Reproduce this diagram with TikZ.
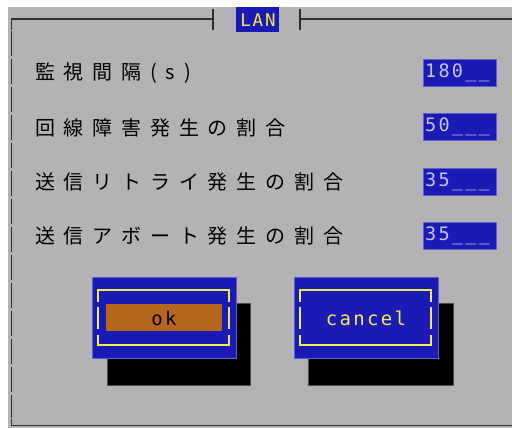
\documentclass[tikz,border=0pt]{standalone}
\usepackage{fontspec}
\newfontfamily\jpfont[LetterSpace=44]{Noto Sans CJK JP}
\newfontfamily\monofont[LetterSpace=12]{DejaVu Sans Mono}
\newfontfamily\lanfont[LetterSpace=10]{DejaVu Sans Mono}
\definecolor{bggray}{HTML}{B4B2B5}
\definecolor{dlgblue}{HTML}{1A1AB4}
\definecolor{dlgyellow}{HTML}{F0EC50}
\definecolor{fieldtext}{HTML}{C4C4E4}
\definecolor{okorange}{HTML}{B4661A}
\definecolor{borderline}{HTML}{2E2E2E}
\tikzset{
  lbl/.style={anchor=west, inner sep=0pt, font=\jpfont\fontsize{20}{20}\selectfont, text=black},
  fieldbox/.style={fill=dlgblue, draw=dlgblue!70!white, line width=0.6pt, minimum width=73pt, minimum height=27pt, inner sep=0pt},
  fieldtxt/.style={anchor=west, inner sep=0pt, font=\monofont\fontsize{18.5}{18.5}\selectfont, text=fieldtext},
  btnblue/.style={fill=dlgblue, draw=dlgblue!70!white, line width=0.6pt},
  btnshadow/.style={fill=black, draw=black!70!white, line width=0.6pt},
  btnframe/.style={draw=dlgyellow, line width=1.8pt},
  frameline/.style={draw=borderline, line width=1.6pt},
}
\begin{document}
\begin{tikzpicture}[x=1pt, y=-1pt]
\useasboundingbox (0,0) rectangle (512,428);
\fill[white] (0,0) rectangle (512,428);
\fill[bggray] (8,7) rectangle (512,428);
% window border
\draw[frameline] (11.5,30) -- (11.5,19) -- (213,19);
\draw[frameline] (213,9) -- (213,30);
\draw[frameline] (300,9) -- (300,30);
\draw[frameline] (300,19) -- (512,19);
\draw[frameline, dash pattern=on 25pt off 3pt] (11.5,31) -- (11.5,418);
\draw[frameline] (11.5,419) -- (11.5,425.5) -- (512,425.5);
% title
\fill[dlgblue] (236,7) rectangle (279,32);
\node[inner sep=0pt, font=\lanfont\fontsize{17.5}{17.5}\selectfont, text=dlgyellow] (lan) at (258,20) {LAN};
% labels
\node[lbl] (l1) at (35,73) {監視間隔(s)};
\node[lbl] (l2) at (35,128) {回線障害発生の割合};
\node[lbl] (l3) at (35,182) {送信リトライ発生の割合};
\node[lbl] (l4) at (35,236) {送信アボート発生の割合};
% fields
\node[fieldbox] (f1) at (459.5,72.5) {};
\node[fieldbox] (f2) at (459.5,127) {};
\node[fieldbox] (f3) at (459.5,181.5) {};
\node[fieldbox] (f4) at (459.5,235.5) {};
\node[fieldtxt] (t1) at (425,72.5) {180\_\_};
\node[fieldtxt] (t2) at (425,127) {50\_\_\_};
\node[fieldtxt] (t3) at (425,181.5) {35\_\_\_};
\node[fieldtxt] (t4) at (425,235.5) {35\_\_\_};
% ok button
\draw[btnshadow] (107,303) rectangle (250,385);
\draw[btnblue] (92,277) rectangle (236,358);
\draw[btnframe] (98,302) -- (98,290) -- (229,290) -- (229,302);
\draw[btnframe] (98,307) -- (98,329);
\draw[btnframe] (229,307) -- (229,329);
\draw[btnframe] (98,335) -- (98,345) -- (229,345) -- (229,335);
\fill[okorange] (106,304) rectangle (222,331);
\node[inner sep=0pt, font=\monofont\fontsize{19}{19}\selectfont, text=black] (ok) at (164,318) {ok};
% cancel button
\draw[btnshadow] (308,303) rectangle (453,385);
\draw[btnblue] (294,277) rectangle (438,358);
\draw[btnframe] (300,302) -- (300,290) -- (431,290) -- (431,302);
\draw[btnframe] (300,307) -- (300,329);
\draw[btnframe] (431,307) -- (431,329);
\draw[btnframe] (300,335) -- (300,345) -- (431,345) -- (431,335);
\node[inner sep=0pt, font=\monofont\fontsize{19}{19}\selectfont, text=dlgyellow] (cancel) at (366,318) {cancel};
\end{tikzpicture}
\end{document}
